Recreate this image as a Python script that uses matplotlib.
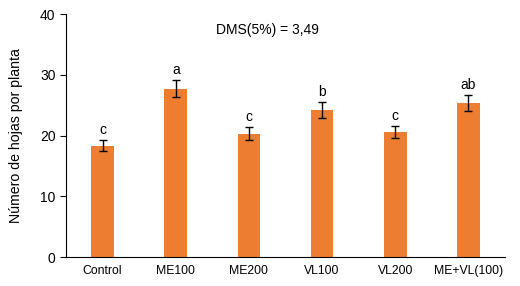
import numpy as np
import matplotlib.pyplot as plt

plt.rcParams['font.family'] = ['Liberation Sans', 'DejaVu Sans']

# Data
categories = ['Control', 'ME100', 'ME200', 'VL100', 'VL200', 'ME+VL(100)']
means = [18.3, 27.7, 20.3, 24.2, 20.6, 25.35]
errors = [0.9, 1.4, 1.1, 1.25, 0.95, 1.25]
letters = ['c', 'a', 'c', 'b', 'c', 'ab']

fig = plt.figure(figsize=(5.2, 2.86), dpi=100)
ax = fig.add_axes([0.127, 0.101, 0.844, 0.85])

x = np.arange(len(categories))
ax.bar(x, means, width=0.31, color='#ED7D31', zorder=2)
ax.errorbar(x, means, yerr=errors, fmt='none', ecolor='black',
            elinewidth=1, capsize=3, capthick=1, zorder=3)

for xi, m, e, lab in zip(x, means, errors, letters):
    ax.text(xi, m + e + 0.5, lab, ha='center', va='bottom', fontsize=10)

ax.text(2.25, 37.4, 'DMS(5%) = 3,49', ha='center', va='center', fontsize=10)

ax.set_xlim(-0.5, len(categories) - 0.5)
ax.set_ylim(0, 40)
ax.set_yticks([0, 10, 20, 30, 40])
ax.set_xticks(x)
ax.set_xticklabels(categories, fontsize=8.8)
ax.tick_params(axis='y', labelsize=10, length=4, direction='out')
ax.tick_params(axis='x', length=0, pad=6)
ax.set_ylabel('Número de hojas por planta', fontsize=10.2, labelpad=12)

for s in ['top', 'right']:
    ax.spines[s].set_visible(False)

plt.savefig('out.png', dpi=100)
